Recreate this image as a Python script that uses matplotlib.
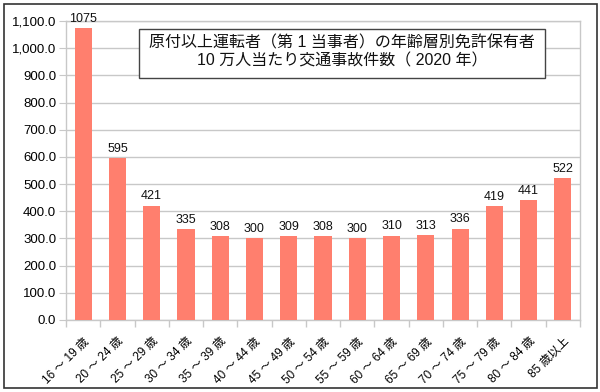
import matplotlib
matplotlib.use("Agg")
import matplotlib.pyplot as plt
from matplotlib.patches import Rectangle
from matplotlib.ticker import FuncFormatter, FixedLocator

plt.rcParams['font.family'] = ['Liberation Sans', 'Noto Sans CJK JP', 'DejaVu Sans']

# data
age_groups = ["16 ～ 19 歳", "20 ～ 24 歳", "25 ～ 29 歳", "30 ～ 34 歳", "35 ～ 39 歳",
              "40 ～ 44 歳", "45 ～ 49 歳", "50 ～ 54 歳", "55 ～ 59 歳", "60 ～ 64 歳",
              "65 ～ 69 歳", "70 ～ 74 歳", "75 ～ 79 歳", "80 ～ 84 歳", "85 歳以上"]
accidents = [1075, 595, 421, 335, 308, 300, 309, 308, 300, 310, 313, 336, 419, 441, 522]
title_lines = ["原付以上運転者（第 1 当事者）の年齢層別免許保有者",
               "10 万人当たり交通事故件数（ 2020 年）"]

bar_color = "#FF7F6E"
grid_color = "#C8C8C8"

fig = plt.figure(figsize=(6, 3.92), dpi=100)
ax = fig.add_axes([66 / 600, 1 - 320 / 392, 514 / 600, 299 / 392])

x = list(range(len(age_groups)))
ax.bar(x, accidents, width=0.5, color=bar_color, zorder=3)
for xi, v in zip(x, accidents):
    ax.text(xi, v + 12, str(v), ha="center", va="bottom", fontsize=9, color="#111111")

ax.set_xlim(-0.5, len(age_groups) - 0.5)
ax.set_ylim(0, 1100)
ax.set_yticks(range(0, 1101, 100))
ax.yaxis.set_major_formatter(FuncFormatter(lambda v, p: f"{v:,.1f}"))
ax.grid(axis="y", color=grid_color, linewidth=1, zorder=0)

# tick marks at category boundaries, labels at centers
ax.xaxis.set_major_locator(FixedLocator([i - 0.5 for i in range(len(age_groups) + 1)]))
ax.xaxis.set_major_formatter(FuncFormatter(lambda v, p: ""))
ax.xaxis.set_minor_locator(FixedLocator(x))
ax.set_xticklabels(age_groups, minor=True, rotation=45, ha="right", rotation_mode="anchor",
                   fontsize=8.5)
ax.tick_params(axis="x", which="major", length=5, color=grid_color, width=1)
ax.tick_params(axis="x", which="minor", length=0, pad=11)
ax.tick_params(axis="y", length=5, color=grid_color, labelsize=9.5, pad=2)

for side in ["top", "right", "left", "bottom"]:
    ax.spines[side].set_color(grid_color)
    ax.spines[side].set_linewidth(1)

# title box
fig.patches.append(Rectangle((139 / 600, 1 - 78 / 392), 406 / 600, 49 / 392,
                             transform=fig.transFigure, facecolor="white",
                             edgecolor="#444444", linewidth=1, zorder=5))
fig.text(342 / 600, 1 - 43 / 392, title_lines[0], ha="center", va="center",
         fontsize=11.5, color="#111111", zorder=6)
fig.text(342 / 600, 1 - 61 / 392, title_lines[1], ha="center", va="center",
         fontsize=11.5, color="#111111", zorder=6)

# outer frame
fig.patches.append(Rectangle((4 / 600, 4 / 392), 593 / 600, 384 / 392,
                             transform=fig.transFigure, fill=False,
                             edgecolor="#333333", linewidth=1.2))

fig.savefig("out.png", dpi=100)
